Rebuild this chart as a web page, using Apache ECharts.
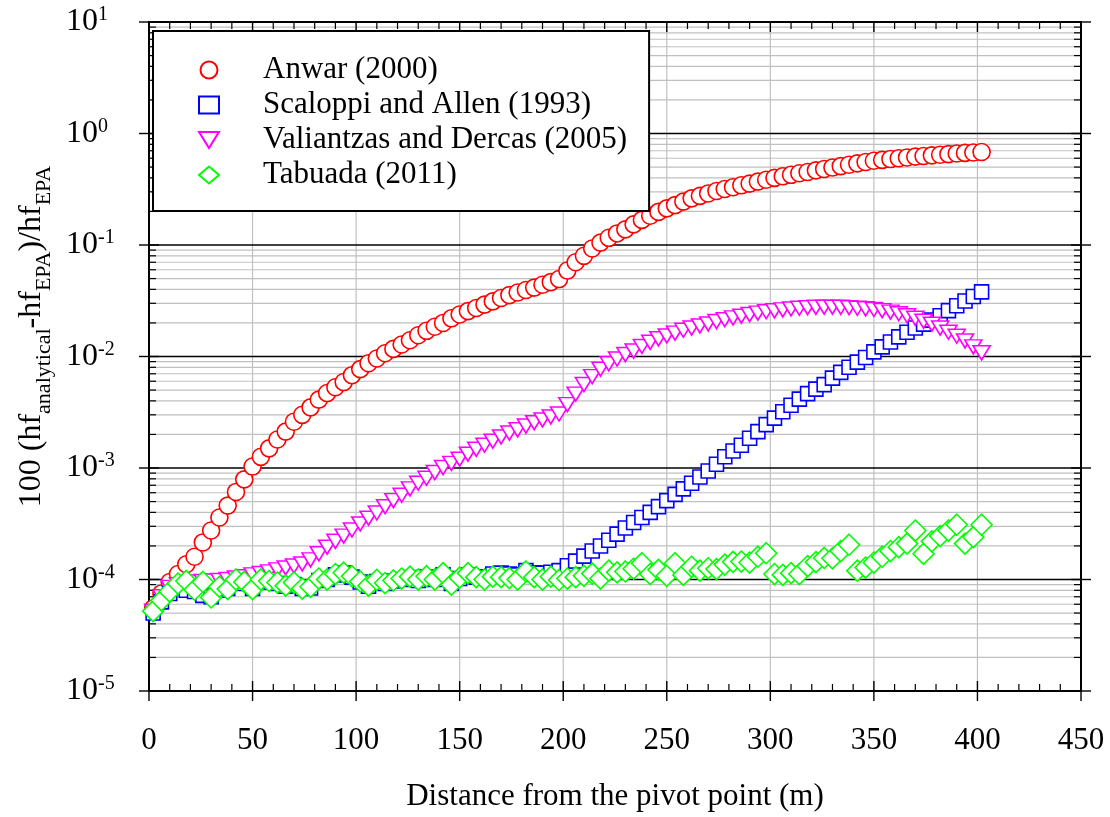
<!DOCTYPE html>
<html><head><meta charset="utf-8">
<script src="https://cdn.jsdelivr.net/npm/echarts@6/dist/echarts.min.js"></script>
<style>html,body{margin:0;padding:0;background:#fff}#c{width:1110px;height:817px}</style>
</head><body><div id="c"></div>
<script>
// ---------------- data ----------------
const distance = [2,6,10,14,18,22,26,30,34,38,
  42,46,50,54,58,62,66,70,74,78,
  82,86,90,94,98,102,106,110,114,118,
  122,126,130,134,138,142,146,150,154,158,
  162,166,170,174,178,182,186,190,194,198,
  202,206,210,214,218,222,226,230,234,238,
  242,246,250,254,258,262,266,270,274,278,
  282,286,290,294,298,302,306,310,314,318,
  322,326,330,334,338,342,346,350,354,358,
  362,366,370,374,378,382,386,390,394,398,
  402];

const anwar = [5.5e-5,7.5e-5,9.5e-5,1.12e-4,1.37e-4,1.6e-4,2.15e-4,2.75e-4,3.6e-4,4.6e-4,
  6.1e-4,7.9e-4,1.03e-3,1.26e-3,1.5e-3,1.8e-3,2.12e-3,2.6e-3,3.0e-3,3.5e-3,
  4.1e-3,4.7e-3,5.3e-3,5.9e-3,6.8e-3,7.7e-3,8.7e-3,9.6e-3,1.07e-2,1.17e-2,
  1.28e-2,1.4e-2,1.55e-2,1.7e-2,1.85e-2,2.0e-2,2.2e-2,2.38e-2,2.55e-2,2.72e-2,
  2.92e-2,3.12e-2,3.35e-2,3.55e-2,3.75e-2,3.95e-2,4.15e-2,4.4e-2,4.65e-2,4.95e-2,
  5.9e-2,7.0e-2,8.0e-2,9.3e-2,0.105,0.116,0.127,0.138,0.153,0.168,
  0.183,0.198,0.213,0.228,0.245,0.262,0.276,0.29,0.305,0.318,
  0.33,0.343,0.355,0.37,0.385,0.4,0.413,0.426,0.44,0.452,
  0.467,0.48,0.495,0.51,0.525,0.54,0.555,0.57,0.58,0.59,
  0.6,0.61,0.62,0.628,0.637,0.645,0.653,0.662,0.67,0.676,
  0.682];

const scaloppi = [5.0e-5,6.3e-5,7.5e-5,8.8e-5,8.0e-5,7.8e-5,7.2e-5,7.0e-5,8.0e-5,8.3e-5,
  9.5e-5,9.2e-5,8.3e-5,9.6e-5,9.5e-5,9.2e-5,8.7e-5,9.0e-5,8.3e-5,8.4e-5,
  9.8e-5,1.0e-4,1.1e-4,1.14e-4,1.05e-4,9.5e-5,8.7e-5,9.6e-5,9.2e-5,9.7e-5,
  1.0e-4,1.04e-4,9.8e-5,1.05e-4,1.0e-4,1.1e-4,9.2e-5,1.02e-4,1.1e-4,1.05e-4,
  1.05e-4,1.12e-4,1.14e-4,1.12e-4,1.1e-4,1.2e-4,1.15e-4,1.14e-4,1.16e-4,1.2e-4,
  1.33e-4,1.46e-4,1.62e-4,1.8e-4,2.0e-4,2.25e-4,2.55e-4,2.9e-4,3.25e-4,3.6e-4,
  4.0e-4,4.5e-4,5.1e-4,5.8e-4,6.5e-4,7.3e-4,8.3e-4,9.4e-4,1.08e-3,1.26e-3,
  1.42e-3,1.6e-3,1.85e-3,2.12e-3,2.45e-3,2.8e-3,3.2e-3,3.65e-3,4.15e-3,4.65e-3,
  5.1e-3,5.6e-3,6.4e-3,7.2e-3,8.0e-3,8.9e-3,9.8e-3,1.1e-2,1.22e-2,1.35e-2,
  1.5e-2,1.65e-2,1.8e-2,1.95e-2,2.12e-2,2.32e-2,2.58e-2,2.85e-2,3.15e-2,3.45e-2,
  3.8e-2];

const valiantzas = [5.2e-5,7.0e-5,8.5e-5,9.0e-5,9.3e-5,9.5e-5,9.6e-5,9.7e-5,9.8e-5,1.0e-4,
  1.03e-4,1.06e-4,1.1e-4,1.13e-4,1.17e-4,1.22e-4,1.27e-4,1.32e-4,1.38e-4,1.5e-4,
  1.7e-4,1.95e-4,2.2e-4,2.45e-4,2.78e-4,3.15e-4,3.55e-4,3.95e-4,4.5e-4,5.1e-4,
  5.7e-4,6.5e-4,7.3e-4,8.1e-4,9.1e-4,1.01e-3,1.1e-3,1.2e-3,1.33e-3,1.47e-3,
  1.6e-3,1.74e-3,1.9e-3,2.06e-3,2.2e-3,2.38e-3,2.55e-3,2.7e-3,2.87e-3,3.05e-3,
  3.7e-3,4.6e-3,5.6e-3,6.6e-3,7.7e-3,8.6e-3,9.5e-3,1.04e-2,1.12e-2,1.23e-2,
  1.34e-2,1.44e-2,1.53e-2,1.62e-2,1.72e-2,1.8e-2,1.88e-2,1.96e-2,2.06e-2,2.14e-2,
  2.22e-2,2.3e-2,2.38e-2,2.45e-2,2.52e-2,2.57e-2,2.62e-2,2.67e-2,2.71e-2,2.74e-2,
  2.76e-2,2.77e-2,2.77e-2,2.76e-2,2.74e-2,2.71e-2,2.68e-2,2.64e-2,2.58e-2,2.5e-2,
  2.42e-2,2.32e-2,2.2e-2,2.07e-2,1.95e-2,1.8e-2,1.65e-2,1.52e-2,1.38e-2,1.22e-2,
  1.08e-2];

const tabuada = [5.2e-5,6.5e-5,7.8e-5,9.2e-5,9.7e-5,8.1e-5,9.5e-5,6.9e-5,8.6e-5,8.2e-5,
  1.0e-4,9.5e-5,8.2e-5,1.0e-4,9.7e-5,9.4e-5,8.8e-5,9.4e-5,8.3e-5,8.6e-5,
  1.02e-4,1.0e-4,1.12e-4,1.15e-4,1.07e-4,9.6e-5,8.8e-5,9.9e-5,9.3e-5,9.8e-5,
  1.02e-4,1.06e-4,1.0e-4,1.07e-4,1.0e-4,1.14e-4,9.0e-5,1.04e-4,1.14e-4,1.05e-4,
  1.0e-4,1.06e-4,1.05e-4,1.03e-4,1.0e-4,1.18e-4,1.05e-4,1.0e-4,1.06e-4,9.9e-5,
  1.02e-4,1.05e-4,1.08e-4,1.13e-4,1.02e-4,1.2e-4,1.16e-4,1.18e-4,1.25e-4,1.4e-4,
  1.12e-4,1.22e-4,1.08e-4,1.4e-4,1.1e-4,1.3e-4,1.2e-4,1.26e-4,1.24e-4,1.36e-4,
  1.44e-4,1.45e-4,1.42e-4,1.6e-4,1.72e-4,1.12e-4,1.1e-4,1.14e-4,1.12e-4,1.32e-4,
  1.43e-4,1.56e-4,1.55e-4,1.8e-4,2.05e-4,1.2e-4,1.28e-4,1.42e-4,1.6e-4,1.8e-4,
  1.95e-4,2.1e-4,2.75e-4,1.7e-4,2.2e-4,2.45e-4,2.75e-4,3.1e-4,2.1e-4,2.4e-4,
  3.1e-4];

const seriesNames = ['Anwar (2000)', 'Scaloppi and Allen (1993)', 'Valiantzas and Dercas (2005)', 'Tabuada (2011)'];
const xTickValues = [0, 50, 100, 150, 200, 250, 300, 350, 400, 450];
const yDecadeExponents = [-5, -4, -3, -2, -1, 0, 1];
const xTitle = 'Distance from the pivot point (m)';

// ---------------- chart ----------------
const FONT = 'Liberation Serif';
const GRAY = '#c0c0c0';
const chart = echarts.init(document.getElementById('c'), null, {renderer: 'canvas'});

function pairs(ys) { return distance.map((x, i) => [x, ys[i]]); }

function renderFrame(params, api) {
  const cs = params.coordSys;
  const left = cs.x, right = cs.x + cs.width, top = cs.y, bottom = cs.y + cs.height;
  const ch = [];
  const line = (x1, y1, x2, y2, color, w) => ch.push({
    type: 'line', shape: {x1, y1, x2, y2}, style: {stroke: color, lineWidth: w}, silent: true
  });
  const yMin = Math.pow(10, yDecadeExponents[0]);
  for (let k = 0; k < yDecadeExponents.length - 1; k++) {
    const base = Math.pow(10, yDecadeExponents[k]);
    for (let m = 2; m <= 9; m++) {
      const y = api.coord([0, m * base])[1];
      line(left, y, right, y, GRAY, 1.2);
      line(left, y, left + 7, y, '#000', 1.2);
      line(right, y, right - 7, y, '#000', 1.2);
    }
  }
  xTickValues.forEach(v => {
    if (v === xTickValues[0] || v === xTickValues[xTickValues.length - 1]) return;
    const x = api.coord([v, yMin])[0];
    line(x, top, x, bottom, GRAY, 1.2);
  });
  yDecadeExponents.forEach(e => {
    const y = api.coord([0, Math.pow(10, e)])[1];
    if (e !== yDecadeExponents[0] && e !== yDecadeExponents[yDecadeExponents.length - 1]) {
      line(left, y, right, y, '#000', 1.4);
    }
    line(left - 10, y, left + 10, y, '#000', 1.4);
    line(right - 10, y, right + 10, y, '#000', 1.4);
  });
  for (let v = 0; v <= 450; v += 10) {
    const x = api.coord([v, yMin])[0];
    if (v % 50 === 0) {
      line(x, bottom - 10, x, bottom + 10, '#000', 1.4);
      line(x, top, x, top + 10, '#000', 1.4);
    } else {
      line(x, bottom, x, bottom - 7, '#000', 1.2);
      line(x, top, x, top + 7, '#000', 1.2);
    }
  }
  ch.push({type: 'rect', shape: {x: left, y: top, width: cs.width, height: cs.height},
    style: {fill: null, stroke: '#000', lineWidth: 2}, silent: true});
  return {type: 'group', children: ch};
}

const markerStyles = [
  {symbol: 'circle', symbolSize: 17, color: '#ff0000'},
  {symbol: 'rect', symbolSize: 14, color: '#0000ff'},
  {symbol: 'path://M0,0L16,0L8,13Z', symbolSize: [17, 14], color: '#ff00ff'},
  {symbol: 'diamond', symbolSize: 21, color: '#00ff00'}
];
const values = [anwar, scaloppi, valiantzas, tabuada];

const scatterSeries = seriesNames.map((name, i) => ({
  name: name,
  type: 'scatter',
  data: pairs(values[i]),
  symbol: markerStyles[i].symbol,
  symbolSize: markerStyles[i].symbolSize,
  itemStyle: {color: '#ffffff', borderColor: markerStyles[i].color, borderWidth: 1.6, opacity: 1},
  emphasis: {disabled: true},
  z: 3,
  animation: false
}));

const option = {
  animation: false,
  backgroundColor: '#ffffff',
  grid: {left: 149, right: 29, top: 22, bottom: 126, show: false},
  legend: {
    data: seriesNames,
    orient: 'vertical',
    left: 153, top: 31,
    padding: [23.5, 22, 20.5, 45],
    itemWidth: 20, itemHeight: 17, itemGap: 4,
    backgroundColor: '#ffffff',
    borderColor: '#000000', borderWidth: 2, borderRadius: 0,
    selectedMode: false,
    textStyle: {fontFamily: FONT, fontSize: 31, color: '#000', padding: [0, 0, 0, 39]},
    z: 10
  },
  xAxis: {
    type: 'value', min: 0, max: 450, interval: 50,
    axisLine: {show: false}, axisTick: {show: false}, splitLine: {show: false},
    axisLabel: {fontFamily: FONT, fontSize: 31, color: '#000', margin: 34, showMinLabel: true, showMaxLabel: true},
    name: xTitle, nameLocation: 'middle', nameGap: 90,
    nameTextStyle: {fontFamily: FONT, fontSize: 31, color: '#000'}
  },
  yAxis: {
    type: 'log', logBase: 10, min: 1e-5, max: 10,
    axisLine: {show: false}, axisTick: {show: false}, splitLine: {show: false}, minorTick: {show: false},
    axisLabel: {
      align: 'left', margin: 83,
      fontFamily: FONT, fontSize: 32, color: '#000',
      formatter: v => '{b|10}{s|' + Math.round(Math.log10(v)) + '}',
      rich: {
        b: {fontFamily: FONT, fontSize: 32, color: '#000'},
        s: {fontFamily: FONT, fontSize: 20, color: '#000', padding: [0, 0, 14, 0]}
      }
    },
    name: '100 (hf{s|analytical}-hf{s|EPA})/hf{s|EPA}',
    nameLocation: 'middle', nameRotate: 90, nameGap: 88,
    nameTextStyle: {
      fontFamily: FONT, fontSize: 32, color: '#000',
      padding: [0, 0, 0, 40],
      rich: {s: {fontFamily: FONT, fontSize: 22, color: '#000', padding: [25, 0, 0, 0]}}
    }
  },
  series: [{
    type: 'custom',
    name: 'frame',
    renderItem: renderFrame,
    data: [[0, 1]],
    silent: true, z: 1, clip: false,
    animation: false
  }].concat(scatterSeries)
};
chart.setOption(option);
</script>
</body></html>
